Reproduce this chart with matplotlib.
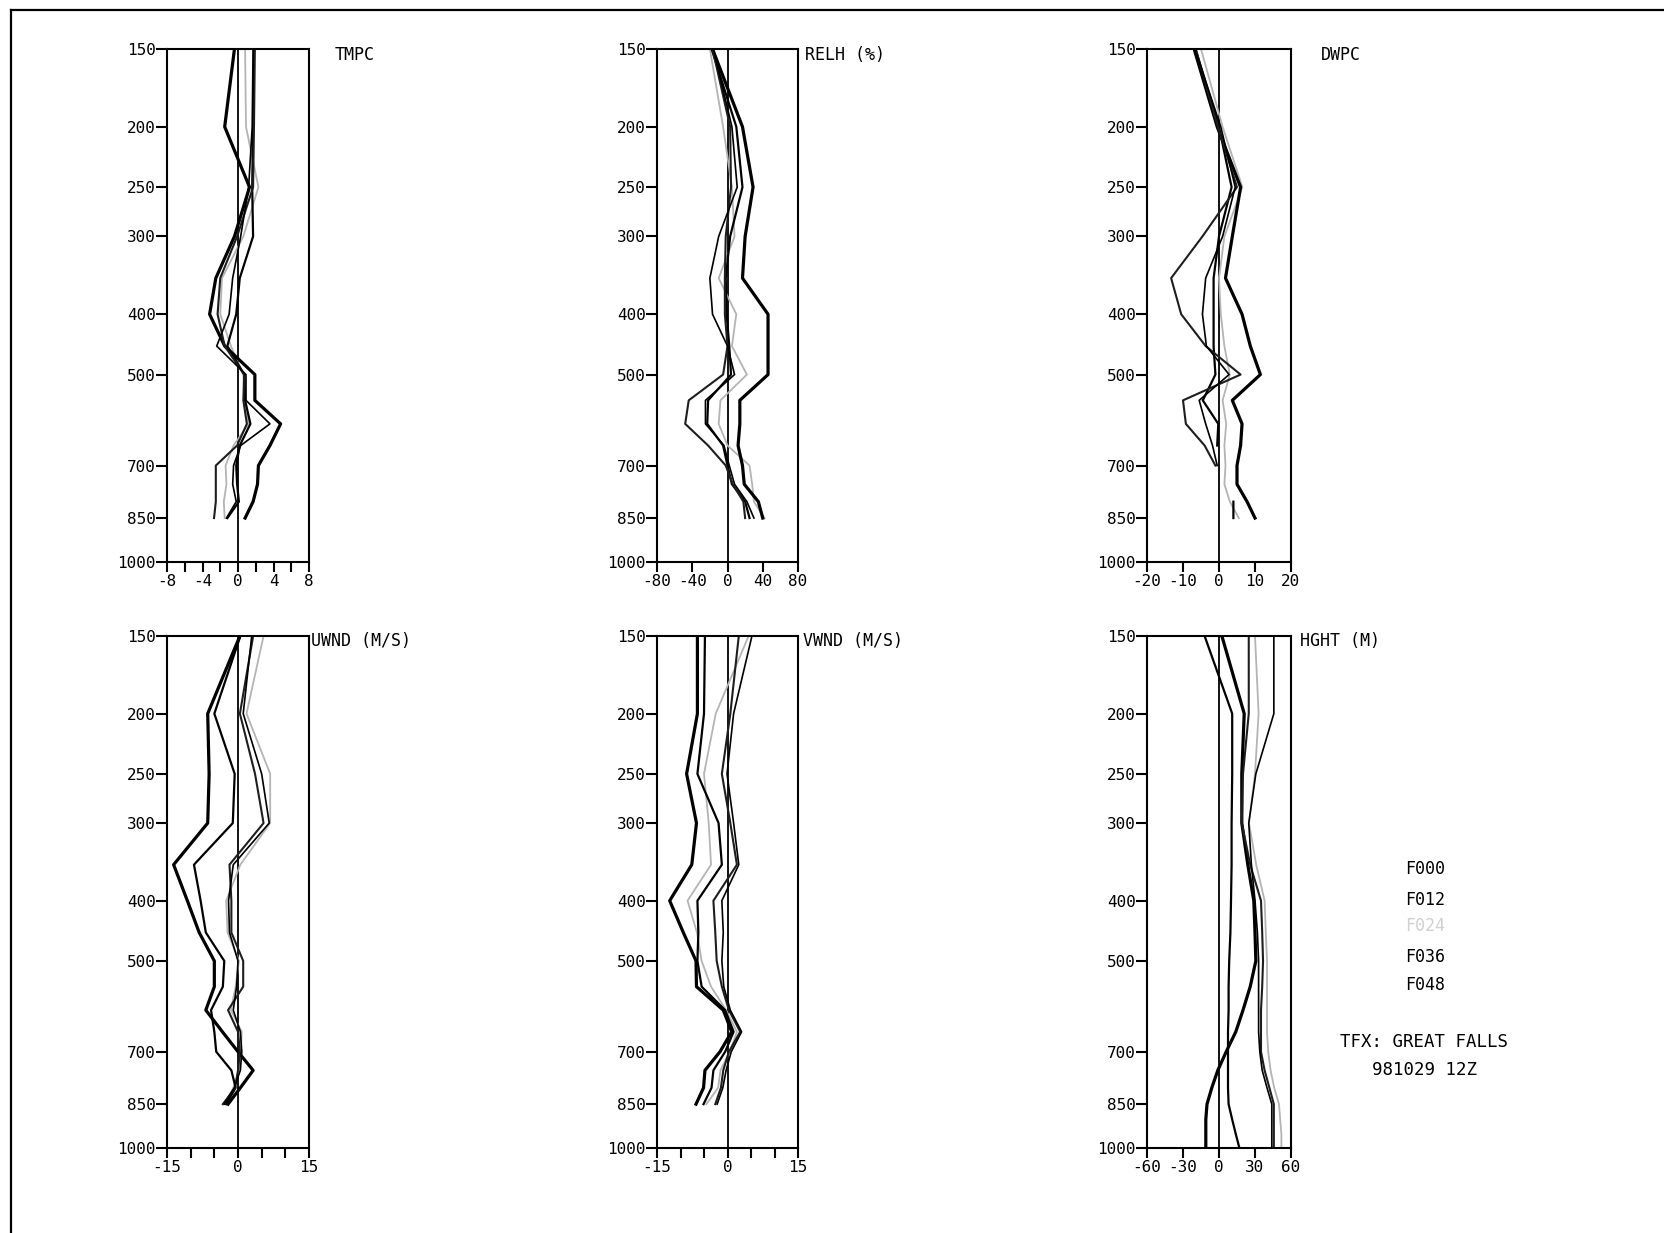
import numpy as np
import matplotlib
matplotlib.use('Agg')
import matplotlib.pyplot as plt
from matplotlib.lines import Line2D

plt.rcParams['font.family'] = ['DejaVu Sans Mono']
plt.rcParams['axes.unicode_minus'] = False

nan = np.nan
levels = [150, 200, 250, 300, 350, 400, 450, 500, 550, 600, 650, 700, 750, 800, 850]
levels_hght = [150, 200, 250, 300, 350, 400, 450, 500, 550, 600, 650, 700, 750, 800, 850, 900, 950, 1000]
series_names = ['F000', 'F012', 'F024', 'F036', 'F048']
p_ticks = [150, 200, 250, 300, 400, 500, 700, 850, 1000]
p_ticklabels = ['150', '200', '250', '300', '400', '500', '700', '850', '1000']

# TMPC differences (C)
tmpc_f000 = [-0.4, -1.5, 1.3, -0.4, -2.5, -3.2, -1.5, 1.9, 1.9, 4.8, 3.6, 2.3, 2.2, 1.7, 0.8]
tmpc_f012 = [1.8, 1.7, 1.6, 1.7, 0.2, -0.2, -1.2, 0.7, 0.8, 1.4, 0.2, -0.2, -0.1, 0.1, -1.2]
tmpc_f024 = [0.8, 0.9, 2.3, 0.6, -1.8, -2.0, -0.8, 0.6, 0.7, 1.2, -0.5, -1.4, -1.3, -1.6, -1.5]
tmpc_f036 = [1.9, 1.8, 1.7, -0.1, -2.0, -2.3, -1.5, 0.7, 0.6, 1.0, -0.1, -2.5, -2.5, -2.5, -2.7]
tmpc_f048 = [1.7, 1.6, 1.2, 0.3, -0.6, -1.0, -2.4, 0.9, 0.9, 3.6, 0.3, -0.5, -0.6, -0.2, -1.3]

# RELH differences (%)
relh_f000 = [-17, 17, 29, 20, 17, 46, 46, 46, 14, 14, 12, 17, 19, 35, 40]
relh_f012 = [-18, 10, 17, 3, -2, -1, 2, 4, -22, -23, -5, 0, 5, 20, 25]
relh_f024 = [-20, -5, 5, 8, -10, 10, 5, 22, -8, -10, 0, 25, 28, 30, 42]
relh_f036 = [-17, 3, 4, -2, -3, -3, 0, -5, -44, -48, -22, -2, 6, 18, 20]
relh_f048 = [-16, 5, 11, -10, -20, -17, 0, 8, -25, -25, -4, 2, 8, 22, 30]

# DWPC differences (C)
dwpc_f000 = [-6.9, -0.5, 6.0, 3.7, 1.8, 6.4, 8.7, 11.5, 3.7, 6.4, 6.0, 5.0, 5.0, 7.8, 10.0]
dwpc_f012 = [-6.5, 0.0, 3.5, 0.0, -1.5, -1.5, -1.5, -1.0, -4.5, -0.2, -0.5, nan, nan, 4.0, 4.0]
dwpc_f024 = [-5.0, 1.0, 6.5, 1.5, 0.0, 0.5, 1.5, 3.0, 1.0, 2.0, 1.5, 1.8, 1.5, 3.0, 5.5]
dwpc_f036 = [-6.5, -0.3, 5.0, -4.6, -13.3, -10.5, -3.7, 6.0, -10.0, -9.2, -4.0, -1.0, nan, nan, nan]
dwpc_f048 = [-6.7, 0.5, 4.5, 1.0, -3.7, -4.6, -3.5, 2.8, -5.5, -3.7, -1.8, -0.5, nan, nan, nan]

# UWND differences (m/s)
uwnd_f000 = [0.4, -6.4, -6.1, -6.4, -13.6, -10.7, -8.2, -5.0, -5.0, -6.8, -3.3, 0.0, 3.2, 0.5, -2.1]
uwnd_f012 = [0.5, -5.0, -0.7, -1.1, -9.3, -7.9, -6.8, -2.9, -3.2, -5.7, -5.0, -4.6, -1.4, -0.5, -2.5]
uwnd_f024 = [5.4, 1.8, 6.8, 6.8, 0.5, -2.5, -2.2, 0.2, -0.5, -1.5, 0.8, 0.6, 0.2, -1.0, -2.8]
uwnd_f036 = [3.2, 0.4, 3.6, 5.4, -1.8, -1.4, -1.4, 1.1, 1.1, -2.1, 0.0, 0.4, 0.0, -0.6, -3.2]
uwnd_f048 = [2.9, 1.1, 5.0, 6.6, -1.0, -2.0, -1.8, 0.0, -0.3, -1.0, 0.5, 0.8, 0.5, -0.8, -2.9]

# VWND differences (m/s)
vwnd_f000 = [-6.4, -6.4, -8.7, -6.6, -7.6, -12.3, -9.4, -6.7, -6.6, -0.9, 0.9, -1.6, -4.8, -5.1, -6.7]
vwnd_f012 = [-4.8, -5.0, -6.4, -1.9, -1.2, -6.4, -6.2, -6.4, -5.5, -0.5, 1.3, -0.5, -3.0, -3.4, -5.1]
vwnd_f024 = [4.5, -2.5, -5.0, -4.0, -3.5, -8.5, -6.5, -5.5, -3.5, -0.3, 2.0, 0.5, -1.5, -2.0, -4.5]
vwnd_f036 = [2.4, 0.6, -1.2, 0.6, 2.0, -3.0, -2.6, -2.3, -1.2, 0.3, 2.7, 0.3, -0.9, -1.4, -2.6]
vwnd_f048 = [5.2, 1.3, -0.1, 1.3, 2.4, -1.2, -0.9, -1.2, -0.8, 0.6, 3.0, 0.8, -0.3, -1.0, -2.2]

# HGHT differences (m)
hght_f000 = [2.4, 21, 19, 19, 24, 29, 30, 30.7, 26, 20, 14, 6, -1, -6, -10, -11, -11, -11]
hght_f012 = [-12, 11, 11, 10.5, 10.5, 10, 9.5, 8.5, 8, 8, 7.5, 7.5, 7.5, 7.5, 8, 11, 14, 17]
hght_f024 = [30, 33, 30, 25, 31, 38, 39, 40, 40, 40, 40, 41, 43, 46, 50, 51, 52, 52]
hght_f036 = [24.8, 24.8, 20, 19, 26, 35, 36, 36.7, 36, 35, 35, 35, 38, 42, 45.7, 45.7, 45.7, 45.7]
hght_f048 = [45.7, 45.7, 30.7, 24.8, 27, 30, 32, 33, 33, 33, 33, 34, 36, 40, 44, 44, 44, 44]

styles = {
    'F000': dict(color='black', lw=2.3),
    'F012': dict(color='black', lw=1.6),
    'F024': dict(color='#b4b4b4', lw=1.3),
    'F036': dict(color='#1e1e1e', lw=1.5),
    'F048': dict(color='black', lw=1.2),
}
legend_colors = {'F000': 'black', 'F012': 'black', 'F024': '#d0d0d0', 'F036': 'black', 'F048': 'black'}

W, H = 1664, 1233
fig = plt.figure(figsize=(W / 100, H / 100), dpi=100)

def fx(px):
    return px / W

def fy(py):
    return 1 - py / H

panels = [
    dict(title='TMPC', box=(167, 49, 309, 562), tpos=(335, 55), lev=levels,
         data=[tmpc_f000, tmpc_f012, tmpc_f024, tmpc_f036, tmpc_f048],
         xlim=(-8, 8), xticks=[-8, -6, -4, -2, 0, 2, 4, 6, 8],
         xlabels=['-8', '', '-4', '', '0', '', '4', '', '8']),
    dict(title='RELH (%)', box=(657, 49, 798, 562), tpos=(805, 55), lev=levels,
         data=[relh_f000, relh_f012, relh_f024, relh_f036, relh_f048],
         xlim=(-80, 80), xticks=[-80, -40, 0, 40, 80],
         xlabels=['-80', '-40', '0', '40', '80']),
    dict(title='DWPC', box=(1147, 49, 1291, 562), tpos=(1321, 55), lev=levels,
         data=[dwpc_f000, dwpc_f012, dwpc_f024, dwpc_f036, dwpc_f048],
         xlim=(-20, 20), xticks=[-20, -10, 0, 10, 20],
         xlabels=['-20', '-10', '0', '10', '20']),
    dict(title='UWND (M/S)', box=(167, 636, 309, 1148), tpos=(311, 641), lev=levels,
         data=[uwnd_f000, uwnd_f012, uwnd_f024, uwnd_f036, uwnd_f048],
         xlim=(-15, 15), xticks=[-15, -10, -5, 0, 5, 10, 15],
         xlabels=['-15', '', '', '0', '', '', '15']),
    dict(title='VWND (M/S)', box=(657, 636, 798, 1148), tpos=(803, 641), lev=levels,
         data=[vwnd_f000, vwnd_f012, vwnd_f024, vwnd_f036, vwnd_f048],
         xlim=(-15, 15), xticks=[-15, -10, -5, 0, 5, 10, 15],
         xlabels=['-15', '', '', '0', '', '', '15']),
    dict(title='HGHT (M)', box=(1147, 636, 1291, 1148), tpos=(1300, 641), lev=levels_hght,
         data=[hght_f000, hght_f012, hght_f024, hght_f036, hght_f048],
         xlim=(-60, 60), xticks=[-60, -30, 0, 30, 60],
         xlabels=['-60', '-30', '0', '30', '60']),
]

for p in panels:
    x0, y0, x1, y1 = p['box']
    ax = fig.add_axes([fx(x0), fy(y1), (x1 - x0) / W, (y1 - y0) / H])
    ax.axvline(0, color='black', lw=1.3, zorder=1)
    for name, vals in zip(series_names, p['data']):
        ax.plot(vals, p['lev'], **styles[name], zorder=2 if name != 'F024' else 1.5)
    ax.set_yscale('log')
    ax.set_ylim(1000, 150)
    ax.set_xlim(*p['xlim'])
    ax.set_yticks(p_ticks)
    ax.set_yticklabels(p_ticklabels)
    ax.yaxis.set_minor_locator(matplotlib.ticker.NullLocator())
    ax.set_xticks(p['xticks'])
    ax.set_xticklabels(p['xlabels'])
    ax.tick_params(axis='y', direction='out', length=8, width=1.5, pad=0, labelsize=11.5)
    ax.tick_params(axis='x', direction='out', length=7.5, width=1.5, pad=1.5, labelsize=11.5)
    for s in ax.spines.values():
        s.set_linewidth(1.5)
    fig.text(fx(p['tpos'][0]), fy(p['tpos'][1]), p['title'], fontsize=12,
             ha='left', va='center')

# legend text
legend_y = [869, 900, 926, 957, 985]
for name, yy in zip(series_names, legend_y):
    fig.text(fx(1425), fy(yy), name, fontsize=12, ha='center', va='center',
             color=legend_colors[name])
fig.text(fx(1424), fy(1042), 'TFX: GREAT FALLS', fontsize=12.5, ha='center', va='center')
fig.text(fx(1424), fy(1070), '981029 12Z', fontsize=12.5, ha='center', va='center')

# page frame (scanned border)
fig.add_artist(Line2D([fx(10.5), fx(10.5)], [0, fy(10)], color='black', lw=1.6))
fig.add_artist(Line2D([fx(10.5), 1], [fy(10), fy(10)], color='black', lw=1.6))

fig.savefig('out.png', dpi=100)
